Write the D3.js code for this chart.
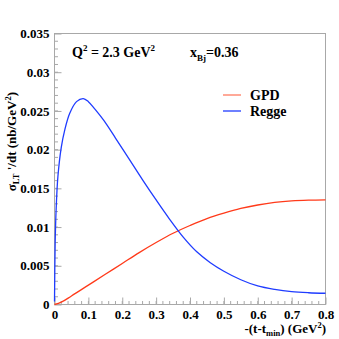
<!DOCTYPE html>
<html>
<head>
<meta charset="utf-8">
<script src="https://cdn.jsdelivr.net/npm/d3@7"></script>
<style>
  html, body { margin: 0; padding: 0; background: #fff; }
  svg text { font-family: "Liberation Serif", "DejaVu Serif", serif; font-weight: bold; fill: #000; }
</style>
</head>
<body>
<div id="chart"></div>
<script>
// Values
const gpdT = [0, 0.02, 0.05, 0.1, 0.15, 0.2, 0.25, 0.3, 0.35, 0.4, 0.45, 0.5, 0.55, 0.6, 0.65, 0.7, 0.75, 0.8];
const gpdSigma = [0, 0.0003, 0.0011, 0.0025, 0.0039, 0.0053, 0.0067, 0.0080, 0.0092, 0.0102, 0.0111, 0.0118, 0.0124, 0.01285, 0.01318, 0.01338, 0.01348, 0.01352];

const reggeT = [0, 0.002, 0.005, 0.01, 0.02, 0.03, 0.045, 0.065, 0.085, 0.1, 0.12, 0.145, 0.18, 0.22, 0.26, 0.3, 0.34, 0.38, 0.42, 0.46, 0.5, 0.55, 0.6, 0.65, 0.7, 0.75, 0.8];
const reggeSigma = [0.0004, 0.008, 0.0125, 0.0165, 0.0203, 0.0225, 0.0247, 0.0262, 0.0266, 0.0262, 0.0252, 0.0238, 0.0215, 0.0188, 0.0161, 0.0135, 0.0110, 0.0087, 0.0068, 0.0054, 0.0043, 0.0032, 0.0024, 0.00195, 0.00166, 0.00152, 0.00145];

const xTicks = [0, 0.1, 0.2, 0.3, 0.4, 0.5, 0.6, 0.7, 0.8];
const yTicks = [0, 0.005, 0.01, 0.015, 0.02, 0.025, 0.03, 0.035];

const width = 339, height = 339;
const margin = { top: 33.5, right: 13.5, bottom: 34.5, left: 54.5 };
const innerWidth = width - margin.left - margin.right;
const innerHeight = height - margin.top - margin.bottom;

const svg = d3.select("#chart").append("svg").attr("width", width).attr("height", height);
const plot = svg.append("g").attr("transform", `translate(${margin.left},${margin.top})`);

const x = d3.scaleLinear().domain([0, 0.8]).range([0, innerWidth]);
const y = d3.scaleLinear().domain([0, 0.035]).range([innerHeight, 0]);

const frameColor = "#a8a8a8";

// frame
plot.append("rect")
  .attr("width", innerWidth).attr("height", innerHeight)
  .attr("fill", "none").attr("stroke", frameColor).attr("stroke-width", 1);

// minor ticks (inward), ROOT style
const xMinor = d3.range(0, 0.8001, 0.02);
const yMinor = d3.range(0, 0.03501, 0.001);
plot.append("g").selectAll("line").data(xMinor).join("line")
  .attr("x1", (d) => x(d)).attr("x2", (d) => x(d))
  .attr("y1", innerHeight).attr("y2", innerHeight - 3.5)
  .attr("stroke", frameColor);
plot.append("g").selectAll("line").data(yMinor).join("line")
  .attr("y1", (d) => y(d)).attr("y2", (d) => y(d))
  .attr("x1", 0).attr("x2", 3.5)
  .attr("stroke", frameColor);

// major ticks + labels via d3 axes
const xAxis = d3.axisBottom(x).tickValues(xTicks).tickSize(-7).tickPadding(5)
  .tickFormat((d) => String(+d.toFixed(1)));
const yAxis = d3.axisLeft(y).tickValues(yTicks).tickSize(-7).tickPadding(5)
  .tickFormat((d) => String(+d.toFixed(3)));

const gx = plot.append("g").attr("transform", `translate(0,${innerHeight})`).call(xAxis);
const gy = plot.append("g").call(yAxis);
[gx, gy].forEach((g) => {
  g.attr("font-family", null).attr("font-size", null);
  g.select(".domain").remove();
  g.selectAll(".tick line").attr("stroke", frameColor);
  g.selectAll(".tick text")
    .style("font-family", "'Liberation Serif', serif")
    .style("font-weight", "bold")
    .style("font-size", "13px")
    .attr("fill", "#000");
});

// curves
const line = d3.line().curve(d3.curveCatmullRom.alpha(0.5)).x((d) => x(d[0])).y((d) => y(d[1]));
const gpdData = gpdT.map((t, i) => [t, gpdSigma[i]]);
const reggeData = reggeT.map((t, i) => [t, reggeSigma[i]]);

plot.append("path").datum(gpdData).attr("d", line)
  .attr("fill", "none").attr("stroke", "#ff3a1a").attr("stroke-width", 1.3);
plot.append("path").datum(reggeData).attr("d", line)
  .attr("fill", "none").attr("stroke", "#1f3cff").attr("stroke-width", 1.3);

// annotations
const q = svg.append("text").attr("x", 72).attr("y", 57).attr("font-size", 14);
q.append("tspan").text("Q");
q.append("tspan").attr("dy", -6).attr("font-size", 9).text("2");
q.append("tspan").attr("dy", 6).text(" = 2.3 GeV");
q.append("tspan").attr("dy", -6).attr("font-size", 9).text("2");

const xb = svg.append("text").attr("x", 190).attr("y", 57).attr("font-size", 14);
xb.append("tspan").text("x");
xb.append("tspan").attr("dy", 4).attr("font-size", 9).text("Bj");
xb.append("tspan").attr("dy", -4).text("=0.36");

// legend
const legendNames = ["GPD", "Regge"];
const legendColors = ["#ff7a60", "#1f3cff"];
const legend = svg.append("g").attr("transform", "translate(223,95)");
legendNames.forEach((name, i) => {
  const gi = legend.append("g").attr("transform", `translate(0,${i * 16})`);
  gi.append("line").attr("x1", 0).attr("x2", 18).attr("y1", 0).attr("y2", 0)
    .attr("stroke", legendColors[i]).attr("stroke-width", 1.3);
  gi.append("text").attr("x", 27).attr("y", 5).attr("font-size", 14).text(name);
});

// x axis title
const xt = svg.append("text").attr("x", 326).attr("y", 333).attr("text-anchor", "end").attr("font-size", 13);
xt.append("tspan").text("-(t-t");
xt.append("tspan").attr("dy", 3).attr("font-size", 8.5).text("min");
xt.append("tspan").attr("dy", -3).text(") (GeV");
xt.append("tspan").attr("dy", -5).attr("font-size", 8.5).text("2");
xt.append("tspan").attr("dy", 5).text(")");

// y axis title
const yt = svg.append("text").attr("transform", "translate(16,92) rotate(-90)")
  .attr("text-anchor", "end").attr("font-size", 13);
yt.append("tspan").text("σ");
yt.append("tspan").attr("dy", 3).attr("font-size", 8.5).text("LT");
yt.append("tspan").attr("dy", -3).text(" '/dt (nb/GeV");
yt.append("tspan").attr("dy", -5).attr("font-size", 8.5).text("2");
yt.append("tspan").attr("dy", 5).text(")");
</script>
</body>
</html>
